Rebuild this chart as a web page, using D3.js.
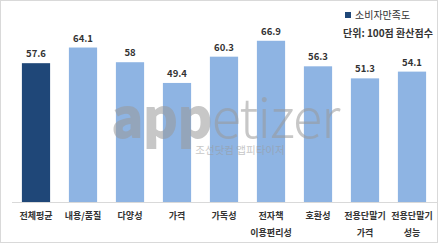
<!DOCTYPE html>
<html><head><meta charset="utf-8">
<script src="https://cdn.jsdelivr.net/npm/d3@7"></script>
<style>body{margin:0;background:#fff}svg{display:block}text{font-family:"Noto Sans CJK KR","Noto Sans",sans-serif}</style>
</head><body>
<svg id="c" width="443" height="246"></svg>
<script>
const categories = [["전체평균"],["내용/품질"],["다양성"],["가격"],["가독성"],["전자책","이용편리성"],["호환성"],["전용단말기","가격"],["전용단말기","성능"]];
const values = [57.6,64.1,58,49.4,60.3,66.9,56.3,51.3,54.1];
const valueLabels = ["57.6","64.1","58","49.4","60.3","66.9","56.3","51.3","54.1"];
const seriesName = "소비자만족도";
const unitNote = "단위: 100점 환산점수";

const svg = d3.select("#c");
svg.append("rect").attr("x",0.5).attr("y",0.5).attr("width",437).attr("height",242).attr("fill","#fff").attr("stroke","#d9d9d9");

const x = d3.scaleBand().domain(d3.range(categories.length)).range([12.5,435.5]).paddingInner(0.4).paddingOuter(0.2);
const y = d3.scaleLinear().domain([0,70]).range([202,202-2.41*70]);

svg.selectAll("rect.bar").data(values).join("rect").attr("class","bar")
  .attr("x",(d,i)=>x(i)).attr("width",x.bandwidth())
  .attr("y",d=>y(d)).attr("height",d=>y(0)-y(d))
  .attr("fill",(d,i)=>i===0?"#1F4778":"#8EB4E3");

svg.selectAll("text.val").data(values).join("text").attr("class","val")
  .attr("x",(d,i)=>x(i)+x.bandwidth()/2).attr("y",d=>y(d)-6)
  .attr("text-anchor","middle").attr("font-size",9.5).attr("font-weight","bold").attr("fill","#333")
  .text((d,i)=>valueLabels[i]);

// watermark (over bars)
const wm = svg.append("g").attr("opacity",0.55);
const wt = wm.append("text").attr("x",111).attr("y",138).attr("font-size",54).attr("fill","#9a9a9a")
  .attr("font-family","Lato, 'Open Sans', sans-serif").attr("letter-spacing",-1);
wt.append("tspan").attr("font-weight","900").text("app");
wt.append("tspan").attr("font-weight","300").text("etizer");
wm.append("text").attr("x",240).attr("y",154).attr("text-anchor","middle").attr("font-size",10.5).attr("fill","#9a9a9a").text("조선닷컴 앱피타이저");

const xAxis = svg.append("g").attr("transform","translate(0,202)")
  .call(d3.axisBottom(x).tickSize(0).tickFormat(()=>""));
xAxis.select(".domain").attr("stroke","#d9d9d9").attr("d","M12,0.5H437");

const lab = svg.selectAll("text.cat").data(categories).join("text").attr("class","cat")
  .attr("x",(d,i)=>x(i)+x.bandwidth()/2).attr("y",219)
  .attr("text-anchor","middle").attr("font-size",9).attr("font-weight","bold").attr("fill","#333");
lab.selectAll("tspan").data(d=>d).join("tspan")
  .attr("x",function(){return this.parentNode.getAttribute("x");})
  .attr("dy",(d,i)=>i===0?0:17).text(d=>d);

svg.append("rect").attr("x",345).attr("y",12).attr("width",6).attr("height",6).attr("fill","#1F4778");
svg.append("text").attr("x",355).attr("y",19).attr("font-size",10).attr("fill","#333").text(seriesName);
svg.append("text").attr("x",343).attr("y",37).attr("font-size",10).attr("font-weight","bold").attr("fill","#333").text(unitNote);
</script>
</body></html>
